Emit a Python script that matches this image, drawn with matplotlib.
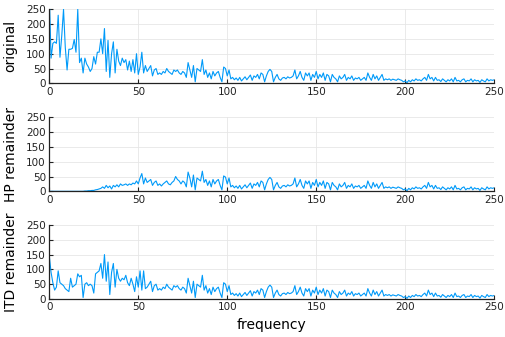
import numpy as np
import matplotlib
matplotlib.use("Agg")
import matplotlib.pyplot as plt
from matplotlib.ticker import MultipleLocator

# spectrum magnitudes, one value per frequency bin
original_low = [
    300, 85, 135, 140, 135, 230, 88, 160, 250, 120,
    45, 115, 115, 118, 148, 105, 250, 70, 85, 35,
    85, 65, 55, 40, 50, 90, 65, 105, 105, 150,
    100, 185, 40, 145, 20, 100, 140, 35, 115, 75,
    60, 85, 70, 80, 45, 75, 40, 80, 35, 100,
    30, 55, 105, 35, 60, 40, 50, 60, 25, 45,
    50, 30, 35, 30, 40, 35, 50, 40, 35, 30,
    45, 40, 45, 35, 30, 40, 35, 20, 70, 45,
    20, 60, 5, 50, 45, 40, 80, 30, 45, 20,
    35, 15, 40, 25, 35, 40, 20, 5, 55, 50,
    25,
]

# high-frequency part (101..250), identical in all three panels
shared_tail = [
    45, 15, 20, 12, 18, 10, 20, 8, 15, 22,
    12, 20, 28, 10, 25, 20, 30, 15, 35, 30,
    5, 25, 40, 47, 40, 5, 20, 30, 15, 10,
    18, 20, 15, 22, 18, 20, 25, 45, 15, 25,
    40, 20, 10, 35, 25, 35, 10, 30, 20, 40,
    15, 30, 20, 35, 10, 30, 25, 5, 30, 20,
    15, 5, 25, 15, 20, 30, 10, 20, 15, 25,
    10, 18, 15, 20, 10, 15, 20, 10, 35, 20,
    10, 30, 15, 25, 10, 20, 30, 10, 15, 12,
    15, 10, 14, 12, 10, 15, 12, 10, 5, 8,
    2, 10, 5, 12, 8, 15, 10, 12, 8, 15,
    20, 10, 30, 15, 20, 8, 20, 10, 12, 6,
    15, 10, 5, 12, 8, 15, 5, 20, 8, 10,
    5, 12, 15, 5, 10, 8, 15, 5, 12, 8,
    10, 3, 12, 8, 5, 15, 8, 12, 10, 12,
]

hp_low = [
    0, 0, 0, 0, 0, 0, 0, 0, 0, 0,
    0, 0, 0, 0, 0, 0, 0, 0, 0, 0,
    1, 1, 2, 2, 3, 3, 5, 6, 8, 10,
    15, 10, 20, 12, 18, 8, 20, 15, 22, 15,
    25, 20, 22, 25, 20, 25, 22, 28, 25, 35,
    25, 45, 60, 25, 45, 30, 35, 40, 20, 30,
    35, 20, 25, 18, 25, 30, 35, 25, 22, 30,
    35, 50, 40, 35, 25, 35, 30, 15, 65, 45,
    15, 55, 5, 45, 40, 35, 68, 30, 40, 20,
    35, 15, 40, 25, 35, 40, 20, 5, 52, 48,
    25,
]

itd_low = [
    145, 90, 55, 30, 40, 95, 55, 50, 45, 35,
    30, 25, 70, 40, 45, 50, 85, 75, 80, 5,
    50, 55, 45, 50, 45, 20, 85, 90, 95, 120,
    70, 150, 60, 125, 15, 90, 120, 40, 100, 70,
    60, 70, 65, 80, 55, 45, 70, 50, 25, 75,
    40, 95, 30, 95, 35,
]

original = original_low + shared_tail
hp_remainder = hp_low + shared_tail
itd_remainder = itd_low + original_low[len(itd_low):] + shared_tail

panels = [
    ("original", original),
    ("HP remainder", hp_remainder),
    ("ITD remainder", itd_remainder),
]

LINE_COLOR = "#009af9"

figure = plt.figure(figsize=(5.05, 3.37), dpi=100)
bottoms = [0.7528, 0.4323, 0.1128]

for (label, values), bottom in zip(panels, bottoms):
    axis = figure.add_axes([0.0976, bottom, 0.881, 0.2196])
    frequency = np.arange(len(values))
    axis.plot(frequency, values, color=LINE_COLOR, linewidth=0.8)
    axis.set_xlim(0, 250)
    axis.set_ylim(0, 250)
    axis.xaxis.set_major_locator(MultipleLocator(50))
    axis.yaxis.set_major_locator(MultipleLocator(50))
    axis.grid(True, color="#e6e6e6", linewidth=0.6)
    axis.set_axisbelow(True)
    for side in ("top", "right"):
        axis.spines[side].set_visible(False)
    for side in ("left", "bottom"):
        axis.spines[side].set_linewidth(0.9)
        axis.spines[side].set_color("#222222")
    axis.tick_params(direction="in", length=3, width=0.8, labelsize=7.5,
                     colors="#222222", pad=2.5)
    axis.set_ylabel(label, fontsize=10, labelpad=6)

axis.set_xlabel("frequency", fontsize=10, labelpad=4)

figure.savefig("out.png", dpi=100)
plt.close(figure)
